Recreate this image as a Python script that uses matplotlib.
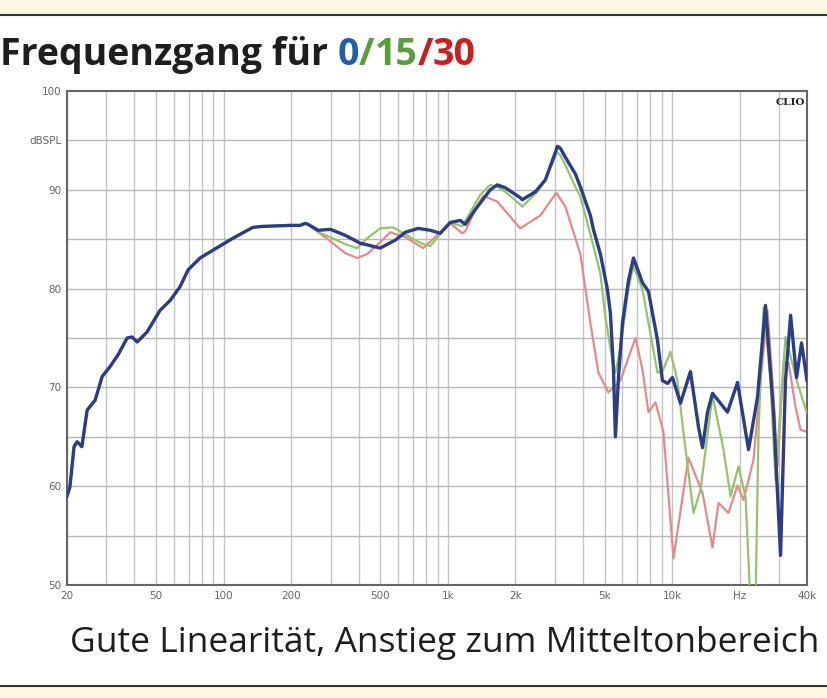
import numpy as np
import matplotlib.pyplot as plt
from matplotlib.lines import Line2D

# Frequency response (Hz, dB SPL)
# below ~250 Hz all three angles lie on top of each other
freq_low = [20, 20.6, 21.5, 22.2, 23.3, 24.6, 26.7, 28.7, 31.1, 33.8, 37.1, 39.0,
            41.1, 45.5, 52.0, 57.7, 63.9, 69.4, 78.5, 89.7, 110, 135, 150, 200,
            219, 231, 238]
db_low = [59.0, 59.9, 64.0, 64.5, 64.0, 67.7, 68.7, 71.1, 72.1, 73.3, 75.0, 75.1,
          74.6, 75.6, 77.8, 78.8, 80.2, 81.9, 83.1, 83.9, 85.1, 86.2, 86.3, 86.4,
          86.4, 86.6, 86.5]

# 0 degrees
freq_0 = [264, 299, 348, 406, 460, 499, 582, 646, 738, 835, 925, 1025, 1136, 1196,
          1325, 1546, 1662, 1804, 2104, 2149, 2456, 2722, 3018, 3080, 3177, 3343,
          3706, 3900, 4324, 4458, 4791, 5150, 5310, 5476, 5590, 5768, 6010, 6391,
          6730, 7380, 7851, 8609, 9058, 9546, 10050, 10906, 12080, 13120, 13680,
          14394, 15154, 17674, 19592, 21940, 24060, 26120, 28380, 30480, 32060,
          33800, 35940, 37820, 40000]
db_0 = [85.9, 86.0, 85.4, 84.6, 84.3, 84.1, 84.9, 85.7, 86.1, 85.9, 85.6, 86.7, 86.9,
        86.5, 88.0, 90.0, 90.5, 90.2, 89.2, 89.0, 89.8, 91.0, 93.8, 94.4, 94.2, 93.3,
        91.6, 90.3, 87.4, 86.0, 83.5, 79.9, 77.5, 72.0, 65.0, 71.0, 76.5, 80.8,
        83.1, 80.6, 79.7, 74.8, 70.7, 70.4, 71.0, 68.4, 71.6, 66.0, 63.9,
        67.5, 69.4, 67.5, 70.5, 63.7, 69.0, 78.3, 67.4, 53.0, 70.7,
        77.3, 71.0, 74.5, 70.7]

# 15 degrees
freq_15 = [264, 299, 348, 394, 437, 499, 570, 701, 776, 835, 954, 1025, 1160, 1396,
           1546, 1662, 1804, 2104, 2149, 2508, 2722, 3018, 3080, 3177, 3343, 3706,
           3900, 4324, 4791, 5044, 5476, 5590, 5886, 6391, 6730, 7380, 8609, 9058,
           9845, 10570, 11247, 12465, 13398, 15154, 16970, 18240, 19794, 21280,
           22400, 23560, 24320, 25600, 27480, 28960, 30480, 32060, 33800, 36300, 40000]
db_15 = [85.7, 85.2, 84.5, 84.1, 85.1, 86.1, 86.2, 85.0, 84.5, 84.3, 85.9, 86.7, 86.3,
         89.5, 90.5, 90.3, 89.8, 88.5, 88.3, 89.8, 91.0, 93.4, 93.8, 93.5, 92.5, 90.3,
         89.3, 85.5, 81.5, 77.1, 72.1, 71.5, 74.0, 80.0, 82.3, 79.9, 71.5, 71.6,
         73.6, 70.7, 65.4, 57.3, 59.6, 69.2, 63.7, 59.0, 62.0, 58.9,
         48.0, 48.0, 65.7, 78.1, 70.7, 60.6, 68.0, 75.1, 73.1, 70.4, 67.4]

# 30 degrees
freq_30 = [264, 299, 348, 394, 437, 499, 553, 646, 701, 776, 897, 1025, 1160, 1196,
           1325, 1439, 1662, 2104, 2586, 3048, 3343, 3900, 4324, 4694, 5204, 5886,
           6871, 7380, 7851, 8433, 9152, 10150, 11836, 13680, 15154, 16110, 17858,
           19592, 20840, 23100, 24840, 26670, 28380, 29580, 31420, 33100, 35560,
           37440, 40000]
db_30 = [85.7, 84.8, 83.6, 83.1, 83.5, 84.7, 85.7, 85.2, 84.7, 84.1, 85.4, 86.6, 85.6,
         85.8, 88.0, 89.4, 88.8, 86.1, 87.4, 89.7, 88.3, 83.5, 76.5, 71.5, 69.5, 70.7,
         75.0, 71.8, 67.5, 68.5, 65.5, 52.7, 62.9, 59.3, 53.8, 58.3, 57.3,
         60.1, 58.6, 62.7, 70.7, 77.8, 69.0, 62.0, 72.5, 72.5, 68.0,
         65.7, 65.5]

x_labels = ['20', '50', '100', '200', '500', '1k', '2k', '5k', '10k', 'Hz', '40k']
x_label_pos = [20, 50, 100, 200, 500, 1000, 2000, 5000, 10000, 20000, 40000]

fig = plt.figure(figsize=(8.28, 6.98), dpi=100)
fig.patch.set_facecolor('white')

# cream bands with dark rules at top and bottom
band = '#fcf6e2'
fig.add_artist(plt.Rectangle((0, 1 - 15 / 698), 1, 15 / 698, transform=fig.transFigure,
                             facecolor=band, edgecolor='none'))
fig.add_artist(Line2D([0, 1], [1 - 15 / 698] * 2, transform=fig.transFigure,
                      color='#333333', lw=1.5))
fig.add_artist(plt.Rectangle((0, 0), 1, 12 / 698, transform=fig.transFigure,
                             facecolor=band, edgecolor='none'))
fig.add_artist(Line2D([0, 1], [12 / 698] * 2, transform=fig.transFigure,
                      color='#333333', lw=1.5))

ax = fig.add_axes([67 / 828, 1 - 585 / 698, 740 / 828, 494 / 698])
ax.set_xscale('log')
ax.set_xlim(20, 40000)
ax.set_ylim(50, 100)

# grid: 1-2-3..9 per decade, every 5 dB
vgrid = []
for dec in [10, 100, 1000, 10000]:
    for m in range(1, 10):
        f = m * dec
        if 20 <= f <= 40000:
            vgrid.append(f)
for f in vgrid:
    ax.axvline(f, color='#c4c4c4', lw=1.0, zorder=0)
for y in range(55, 100, 5):
    ax.axhline(y, color='#b8b8b8', lw=1.0, zorder=0)

ax.plot(freq_low + freq_30, db_low + db_30, color='#e58a8a', lw=1.6, zorder=2)
ax.plot(freq_low + freq_15, db_low + db_15, color='#93c46a', lw=1.6, zorder=3)
ax.plot(freq_low + freq_0, db_low + db_0, color='#2c3d85', lw=2.4, zorder=4)

ax.set_xticks(x_label_pos)
ax.set_xticklabels(x_labels)
ax.set_xticks([], minor=True)
ax.set_yticks([50, 60, 70, 80, 90, 95, 100])
ax.set_yticklabels(['50', '60', '70', '80', '90', 'dBSPL', '100'])
ax.tick_params(length=0, labelsize=7.5, labelcolor='#666666', pad=4)
for s in ax.spines.values():
    s.set_color('#666666')
    s.set_linewidth(1.5)

ax.text(0.997, 0.985, 'CLIO', transform=ax.transAxes, ha='right', va='top',
        fontsize=7.5, fontweight='bold', family='DejaVu Serif', color='#222222')

# title in three colours
title_y = 1 - 55 / 698
title_size = 27
t = fig.text(0.0, title_y, 'Frequenzgang für ', fontsize=title_size, fontweight='bold',
             family='Open Sans', color='#1e1e1e', va='center')
fig.canvas.draw()
r = fig.canvas.get_renderer()
x0 = t.get_window_extent(r).x1 / 828
parts = [('0', '#1f5fae'), ('/', '#5a9e3c'), ('15', '#5a9e3c'), ('/', '#c8201f'),
         ('30', '#c8201f')]
for s, c in parts:
    tt = fig.text(x0, title_y, s, fontsize=title_size, fontweight='bold',
                  family='Open Sans', color=c, va='center')
    fig.canvas.draw()
    x0 = tt.get_window_extent(r).x1 / 828

fig.text(444.5 / 828, 1 - 643 / 698, 'Gute Linearität, Anstieg zum Mitteltonbereich',
         fontsize=25.5, family='Open Sans', color='#1e1e1e', ha='center', va='center')

fig.savefig('out.png', dpi=100, facecolor=fig.get_facecolor())
